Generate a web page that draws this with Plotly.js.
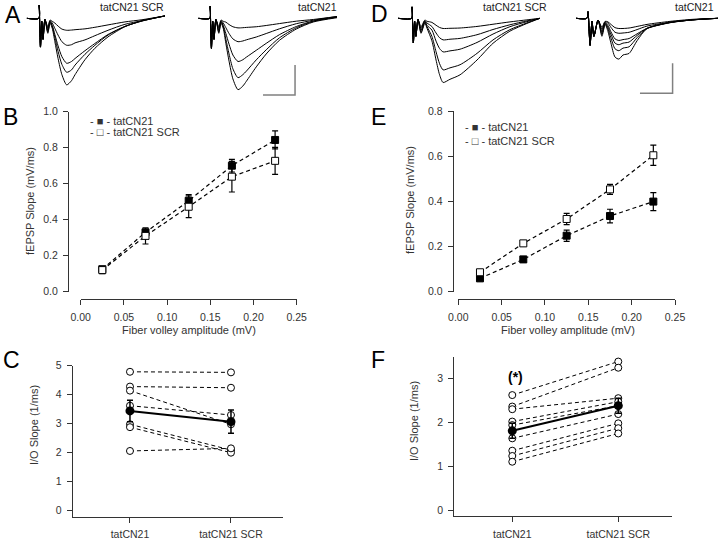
<!DOCTYPE html>
<html>
<head>
<meta charset="utf-8">
<script src="https://cdn.plot.ly/plotly-3.0.1.min.js"></script>
<style>body{margin:0;background:#fff} #plotArea{width:720px;height:540px}</style>
</head>
<body>
<div id="plotArea"></div>
<script>
// fiber volley bins (mV)
var fvBins = [0.025, 0.075, 0.125, 0.175, 0.225];

// B - fEPSP slope vs fiber volley
var slopeCN21B = [0.125, 0.33, 0.505, 0.70, 0.843];
var errCN21B   = [0.015, 0.015, 0.035, 0.035, 0.05];
var slopeScrB  = [0.12, 0.31, 0.472, 0.639, 0.727];
var errScrB    = [0.02, 0.045, 0.06, 0.085, 0.075];

// E
var slopeCN21E = [0.059, 0.143, 0.248, 0.335, 0.399];
var errCN21E   = [0.01, 0.012, 0.025, 0.03, 0.04];
var slopeScrE  = [0.086, 0.214, 0.322, 0.453, 0.604];
var errScrE    = [0.008, 0.01, 0.025, 0.022, 0.045];

// C / F - I/O slopes per slice
var groups = ["tatCN21", "tatCN21 SCR"];
var ioCN21C = [4.79, 4.28, 4.14, 3.62, 2.98, 2.88, 2.06];
var ioScrC  = [4.77, 4.24, 2.98, 3.30, 2.09, 2.00, 2.15];
var ioMeanC = [3.44, 3.07];
var ioErrC  = [0.37, 0.40];

var ioCN21F = [2.62, 2.36, 2.30, 2.02, 1.94, 1.64, 1.36, 1.24, 1.11];
var ioScrF  = [3.38, 3.24, 2.55, 2.47, 2.38, 2.19, 1.98, 1.87, 1.75];
var ioMeanF = [1.81, 2.38];
var ioErrF  = [0.17, 0.17];

// example sweeps (time ms, mV)
var tA1 = [0, 3.8, 3.9, 4.3, 4.7, 5.1, 5.7, 6.6, 7.3, 8.0, 8.8, 9.8, 11.0, 12.5, 14.0, 15.1, 18.2, 21.3, 25.4, 30.7, 36, 43.2];
var sweepsA1 = [
  [0, 0, 0.22, -0.48, -0.05, -0.35, -0.02, -0.14, -0.03, -0.05, -0.08, -0.13, -0.18, -0.20, -0.196, -0.19, -0.176, -0.15, -0.11, -0.06, -0.024, 0.04],
  [0, 0, 0.22, -0.48, -0.05, -0.35, -0.02, -0.17, -0.04, -0.08, -0.17, -0.28, -0.39, -0.45, -0.44, -0.41, -0.36, -0.29, -0.20, -0.10, -0.04, 0.04],
  [0, 0, 0.22, -0.48, -0.05, -0.35, -0.02, -0.20, -0.05, -0.12, -0.27, -0.46, -0.64, -0.75, -0.72, -0.67, -0.54, -0.42, -0.27, -0.135, -0.045, 0.04],
  [0, 0, 0.22, -0.48, -0.05, -0.35, -0.02, -0.23, -0.06, -0.14, -0.32, -0.55, -0.77, -0.90, -0.86, -0.78, -0.60, -0.45, -0.28, -0.135, -0.045, 0.04],
  [0, 0, 0.22, -0.48, -0.05, -0.35, -0.02, -0.25, -0.08, -0.17, -0.39, -0.67, -0.94, -1.11, -1.04, -0.94, -0.69, -0.50, -0.31, -0.14, -0.04, 0.04]
];
var tA2 = [0, 3.6, 3.7, 4.1, 4.5, 4.9, 5.5, 6.4, 7.1, 7.8, 8.6, 9.6, 10.8, 12.4, 13.9, 15.0, 18.1, 21.2, 25.3, 30.6, 36, 43.3];
var sweepsA2 = [
  [0, 0, 0.20, -0.50, -0.05, -0.35, -0.02, -0.14, -0.03, -0.05, -0.064, -0.104, -0.141, -0.16, -0.157, -0.152, -0.141, -0.12, -0.088, -0.048, -0.019, 0.03],
  [0, 0, 0.20, -0.50, -0.05, -0.35, -0.02, -0.17, -0.04, -0.08, -0.156, -0.254, -0.343, -0.39, -0.378, -0.359, -0.312, -0.254, -0.176, -0.09, -0.031, 0.03],
  [0, 0, 0.20, -0.50, -0.05, -0.35, -0.02, -0.20, -0.05, -0.12, -0.252, -0.432, -0.612, -0.72, -0.691, -0.648, -0.533, -0.418, -0.274, -0.137, -0.043, 0.02],
  [0, 0, 0.20, -0.50, -0.05, -0.35, -0.02, -0.23, -0.06, -0.14, -0.347, -0.594, -0.842, -0.99, -0.94, -0.881, -0.693, -0.525, -0.327, -0.158, -0.05, 0.02],
  [0, 0, 0.20, -0.50, -0.05, -0.35, -0.02, -0.25, -0.08, -0.17, -0.417, -0.714, -1.01, -1.19, -1.13, -1.05, -0.81, -0.595, -0.369, -0.179, -0.06, 0.01]
];
var tD1 = [0, 4.3, 4.4, 4.8, 5.2, 5.6, 6.25, 7.2, 8.4, 9.1, 10.6, 11.9, 13.0, 14.1, 16.25, 19.4, 24.7, 29.7, 35, 40.3, 44.4];
var sweepsD1 = [
  [0, 0, 0.19, -0.41, -0.05, -0.30, -0.02, -0.14, -0.03, -0.05, -0.068, -0.116, -0.153, -0.17, -0.167, -0.162, -0.136, -0.099, -0.06, -0.026, 0],
  [0, 0, 0.19, -0.41, -0.05, -0.30, -0.02, -0.17, -0.04, -0.08, -0.137, -0.245, -0.324, -0.36, -0.349, -0.335, -0.274, -0.187, -0.108, -0.043, 0],
  [0, 0, 0.19, -0.41, -0.05, -0.30, -0.02, -0.20, -0.05, -0.12, -0.196, -0.381, -0.504, -0.56, -0.543, -0.515, -0.403, -0.263, -0.14, -0.056, 0],
  [0, 0, 0.19, -0.41, -0.05, -0.30, -0.02, -0.23, -0.06, -0.14, -0.301, -0.559, -0.757, -0.86, -0.826, -0.774, -0.585, -0.361, -0.189, -0.077, 0],
  [0, 0, 0.19, -0.41, -0.05, -0.30, -0.02, -0.25, -0.08, -0.17, -0.375, -0.696, -0.942, -1.07, -1.017, -0.942, -0.696, -0.417, -0.214, -0.086, 0]
];
var tD2 = [0, 3.4, 3.75, 4.4, 5.0, 5.6, 6.9, 8.1, 9.1, 10.0, 10.9, 12.2, 13.4, 14.7, 16.6, 19.1, 22.2, 29.4, 36.5, 44.4];
var sweepsD2 = [
  [0, 0, 0.11, -0.45, -0.05, -0.30, -0.03, -0.15, -0.05, -0.06, -0.10, -0.156, -0.17, -0.17, -0.162, -0.136, -0.102, -0.051, -0.017, 0],
  [0, 0, 0.11, -0.45, -0.05, -0.30, -0.03, -0.18, -0.06, -0.08, -0.15, -0.233, -0.25, -0.245, -0.233, -0.188, -0.13, -0.065, -0.023, 0],
  [0, 0, 0.11, -0.45, -0.05, -0.30, -0.03, -0.21, -0.07, -0.12, -0.222, -0.344, -0.37, -0.355, -0.337, -0.259, -0.167, -0.074, -0.026, 0],
  [0, 0, 0.11, -0.45, -0.05, -0.30, -0.03, -0.24, -0.08, -0.15, -0.264, -0.414, -0.44, -0.414, -0.396, -0.286, -0.167, -0.07, -0.026, 0],
  [0, 0, 0.11, -0.45, -0.05, -0.30, -0.03, -0.27, -0.09, -0.18, -0.324, -0.508, -0.54, -0.497, -0.475, -0.324, -0.173, -0.07, -0.027, 0],
  [0, 0, 0.11, -0.45, -0.05, -0.30, -0.03, -0.30, -0.10, -0.22, -0.408, -0.646, -0.68, -0.612, -0.585, -0.374, -0.17, -0.068, -0.027, 0]
];
// scale bars: 10 ms, 0.5 mV
var barA_t = [20.2, 30.2, 30.2], barA_v = [-1.28, -1.28, -0.78];
var barD_t = [20.0, 30.2, 30.2], barD_v = [-1.25, -1.25, -0.75];

// pixel -> paper helpers
function px(x) { return x / 720; }
function py(y) { return 1 - y / 540; }

var data = [];

// sweeps
function addSweeps(t, sweeps, xa) {
  sweeps.forEach(function (v) {
    data.push({x: t, y: v, xaxis: xa, yaxis: "y5", mode: "lines",
      line: {color: "black", width: 1, shape: "spline", smoothing: 0.7}, hoverinfo: "skip"});
  });
}
addSweeps(tA1, sweepsA1, "x5");
addSweeps(tA2, sweepsA2, "x6");
addSweeps(tD1, sweepsD1, "x7");
addSweeps(tD2, sweepsD2, "x8");
data.push({x: barA_t, y: barA_v, xaxis: "x6", yaxis: "y5", mode: "lines", line: {color: "#808080", width: 1.5}});
data.push({x: barD_t, y: barD_v, xaxis: "x8", yaxis: "y5", mode: "lines", line: {color: "#808080", width: 1.5}});

// slope curves
function slopeTrace(y, err, filled, xa, ya) {
  return {x: fvBins, y: y, xaxis: xa, yaxis: ya, mode: "lines+markers", cliponaxis: false,
    line: {color: "black", width: 1.2, dash: "4px,3px"},
    marker: {symbol: "square", size: 7, color: filled ? "black" : "white", line: {color: "black", width: 1}},
    error_y: {type: "data", array: err, color: "black", thickness: 1.2, width: 3}};
}
data.push(slopeTrace(slopeCN21B, errCN21B, true, "x", "y"));
data.push(slopeTrace(slopeScrB, errScrB, false, "x", "y"));
data.push(slopeTrace(slopeCN21E, errCN21E, true, "x2", "y2"));
data.push(slopeTrace(slopeScrE, errScrE, false, "x2", "y2"));

// paired I/O slopes
function addPairs(left, right, mean, err, xa, ya) {
  left.forEach(function (v, i) {
    data.push({x: [0, 1], y: [v, right[i]], xaxis: xa, yaxis: ya, mode: "lines+markers", cliponaxis: false,
      line: {color: "black", width: 1, dash: "4px,3px"},
      marker: {symbol: "circle", size: 7, color: "white", line: {color: "black", width: 1}}});
  });
  data.push({x: [0, 1], y: mean, xaxis: xa, yaxis: ya, mode: "lines+markers", cliponaxis: false,
    line: {color: "black", width: 2},
    marker: {symbol: "circle", size: 9, color: "black"},
    error_y: {type: "data", array: err, color: "black", thickness: 1.5, width: 3}});
}
addPairs(ioCN21C, ioScrC, ioMeanC, ioErrC, "x3", "y3");
addPairs(ioCN21F, ioScrF, ioMeanF, ioErrF, "x4", "y4");

var tickFont = {family: "Liberation Sans, Arial, sans-serif", size: 10.5, color: "#333"};
function ax(o) {
  return Object.assign({showline: true, linecolor: "#333", linewidth: 1, ticks: "outside", ticklen: 5,
    tickcolor: "#333", tickwidth: 1, tickfont: tickFont, showgrid: false, zeroline: false,
    ticklabelstandoff: 3, fixedrange: true}, o);
}
function hidden(o) {
  return Object.assign({visible: false, showgrid: false, zeroline: false, fixedrange: true}, o);
}

var layout = {
  width: 720, height: 540,
  margin: {l: 0, r: 0, t: 0, b: 0},
  paper_bgcolor: "white", plot_bgcolor: "white",
  showlegend: false,
  font: {family: "Liberation Sans, Arial, sans-serif", color: "#333"},
  // B
  xaxis: ax({domain: [px(80.7), px(296.7)], range: [0, 0.25], dtick: 0.05, tick0: 0, tickformat: ".2f",
    anchor: "free", position: py(299)}),
  yaxis: ax({domain: [py(291.7), py(111.7)], range: [0, 1], dtick: 0.2, tickformat: ".1f",
    anchor: "free", position: px(68)}),
  // E
  xaxis2: ax({domain: [px(458.3), px(675)], range: [0, 0.25], dtick: 0.05, tick0: 0, tickformat: ".2f",
    anchor: "free", position: py(299.3)}),
  yaxis2: ax({domain: [py(291.7), py(111)], range: [0, 0.8], dtick: 0.2, tickformat: ".1f",
    anchor: "free", position: px(452.7)}),
  // C
  xaxis3: ax({domain: [px(72.7), px(282.7)], range: [-0.567, 1.512], tickvals: [0, 1], ticktext: groups, anchor: "y3"}),
  yaxis3: ax({domain: [py(516.7), py(365.7)], range: [-0.207, 5], dtick: 1, anchor: "x3"}),
  // F
  xaxis4: ax({domain: [px(454.3), px(671.7)], range: [-0.547, 1.504], tickvals: [0, 1], ticktext: groups, anchor: "y4"}),
  yaxis4: ax({domain: [py(516), py(356.7)], range: [-0.12, 3.49], dtick: 1, anchor: "x4"}),
  // sweeps
  xaxis5: hidden({domain: [px(26.7), px(165)], range: [0, 43.2], anchor: "y5"}),
  xaxis6: hidden({domain: [px(198.3), px(337)], range: [0, 43.3], anchor: "y5"}),
  xaxis7: hidden({domain: [px(398), px(540)], range: [0, 44.4], anchor: "y5"}),
  xaxis8: hidden({domain: [px(576), px(718)], range: [0, 44.4], anchor: "y5"}),
  yaxis5: hidden({domain: [py(100), 1], range: [-1.362, 0.305], anchor: "x5"}),
  annotations: []
};

function note(text, x, y, o) {
  layout.annotations.push(Object.assign({text: text, x: px(x), y: py(y), xref: "paper", yref: "paper",
    showarrow: false, xanchor: "center", yanchor: "middle",
    font: {family: "Liberation Sans, Arial, sans-serif", size: 11, color: "#333"}}, o || {}));
}
var letterFont = {family: "Liberation Sans, Arial, sans-serif", size: 23, color: "black"};
note("A", 12.5, 15, {font: letterFont});
note("D", 379, 14, {font: letterFont});
note("B", 10.5, 117.5, {font: letterFont});
note("E", 378, 117.5, {font: letterFont});
note("C", 11, 360, {font: letterFont});
note("F", 378, 360, {font: letterFont});

var sweepFont = {family: "Liberation Sans, Arial, sans-serif", size: 10.5, color: "#222"};
note("tatCN21 SCR", 131.5, 7, {font: sweepFont});
note("tatCN21", 317.5, 7, {font: sweepFont});
note("tatCN21 SCR", 514.5, 7, {font: sweepFont});
note("tatCN21", 694, 7, {font: sweepFont});

note("fEPSP Slope (mV/ms)", 30, 201, {textangle: -90});
note("fEPSP Slope (mV/ms)", 410, 200, {textangle: -90});
note("I/O Slope (1/ms)", 34, 425, {textangle: -90});
note("I/O Slope (1/ms)", 414, 421, {textangle: -90});
note("Fiber volley amplitude (mV)", 189, 330);
note("Fiber volley amplitude (mV)", 568, 330);

note("- \u25A0 - tatCN21", 88, 120.7, {xanchor: "left"});
note("- \u25A1 - tatCN21 SCR", 88, 132.3, {xanchor: "left"});
note("- \u25A0 - tatCN21", 463, 126.7, {xanchor: "left"});
note("- \u25A1 - tatCN21 SCR", 463, 140.7, {xanchor: "left"});

note("<b>(*)</b>", 515, 377, {font: {family: "Liberation Sans, Arial, sans-serif", size: 14, color: "black"}});

Plotly.newPlot("plotArea", data, layout, {displayModeBar: false, staticPlot: true});
</script>
</body>
</html>
